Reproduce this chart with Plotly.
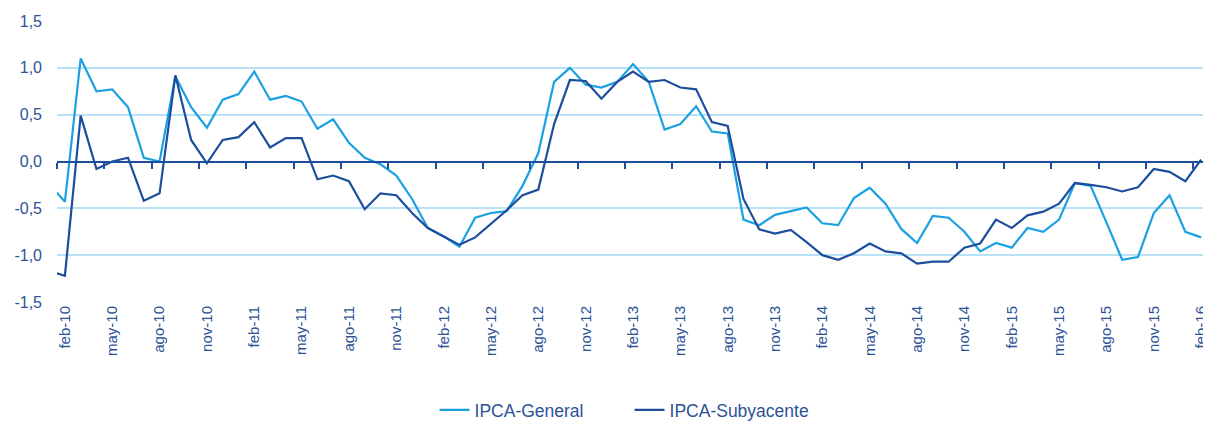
import plotly.graph_objects as go

# Month categories (first value, ene-10, lies just outside the visible axis range)
month_abbr = ["ene", "feb", "mar", "abr", "may", "jun", "jul", "ago", "sep", "oct", "nov", "dic"]
months = [f"{month_abbr[m % 12]}-{10 + m // 12:02d}" for m in range(0, 74)]  # ene-10 .. feb-16

ipca_general = [
    -0.24,
    -0.43, 1.10, 0.75, 0.77, 0.58, 0.04, 0.00, 0.91, 0.58, 0.36, 0.66, 0.72,
    0.96, 0.66, 0.70, 0.64, 0.35, 0.45, 0.20, 0.04, -0.03, -0.15, -0.40, -0.71,
    -0.80, -0.91, -0.60, -0.55, -0.53, -0.26, 0.09, 0.85, 1.00, 0.82, 0.79, 0.85,
    1.04, 0.85, 0.34, 0.40, 0.59, 0.32, 0.30, -0.62, -0.68, -0.57, -0.53, -0.49,
    -0.66, -0.68, -0.39, -0.28, -0.45, -0.72, -0.87, -0.58, -0.60, -0.75, -0.96, -0.87,
    -0.92, -0.71, -0.75, -0.62, -0.23, -0.26, -0.65, -1.05, -1.02, -0.55, -0.36, -0.75,
    -0.81,
]
ipca_subyacente = [
    -1.17,
    -1.22, 0.49, -0.08, 0.00, 0.04, -0.42, -0.34, 0.92, 0.23, -0.02, 0.23, 0.26,
    0.42, 0.15, 0.25, 0.25, -0.19, -0.15, -0.21, -0.51, -0.34, -0.36, -0.55, -0.71,
    -0.80, -0.89, -0.81, -0.67, -0.52, -0.36, -0.30, 0.40, 0.87, 0.86, 0.67, 0.85,
    0.96, 0.85, 0.87, 0.79, 0.77, 0.42, 0.38, -0.40, -0.725, -0.77, -0.73, -0.86,
    -1.00, -1.05, -0.98, -0.875, -0.96, -0.98, -1.09, -1.07, -1.07, -0.92, -0.875, -0.62,
    -0.71, -0.575, -0.535, -0.45, -0.23, -0.25, -0.275, -0.32, -0.275, -0.08, -0.11, -0.21,
    0.02,
]

y_tickvals = [1.5, 1.0, 0.5, 0.0, -0.5, -1.0, -1.5]
y_ticktext = ["1,5", "1,0", "0,5", "0,0", "-0,5", "-1,0", "-1,5"]

x_pos = list(range(len(months)))          # category positions
label_idx = list(range(1, len(months), 3))  # feb-10, may-10, ... feb-16
x_tickvals = [x_pos[i] for i in label_idx]
x_ticktext = [months[i] for i in label_idx]

LIGHT = "#1BA1E2"
DARK = "#1C4E9D"
TEXT = "#2D5296"
GRID = "#B7E2F7"
FONT = "Liberation Sans, Arial, sans-serif"

fig = go.Figure()
fig.add_trace(go.Scatter(x=x_pos, y=ipca_general, mode="lines", name="IPCA-General",
                         line=dict(color=LIGHT, width=2.2)))
fig.add_trace(go.Scatter(x=x_pos, y=ipca_subyacente, mode="lines", name="IPCA-Subyacente",
                         xaxis="x2", line=dict(color=DARK, width=2.2)))

# The page body has an 8px default margin, so the figure is sized to fit the window.
xrange = [0.5, len(months) - 0.5]
fig.update_layout(
    width=1203, height=413,
    margin=dict(l=49, r=2, t=13, b=119, autoexpand=False),
    paper_bgcolor="white", plot_bgcolor="white",
    font=dict(family=FONT, size=15, color=TEXT),
    showlegend=True,
    legend=dict(orientation="h", x=0.497, xanchor="center", y=-0.32, yanchor="top",
                font=dict(size=17.5, color=TEXT), tracegroupgap=0,
                entrywidth=150, entrywidthmode="pixels"),
    xaxis=dict(range=xrange, tickmode="array", tickvals=x_tickvals, ticktext=x_ticktext,
               tickangle=-90, showgrid=False, zeroline=False, showline=False, ticks="",
               ticklabeloverflow="allow", automargin=False,
               tickfont=dict(size=15, color=TEXT)),
    xaxis2=dict(range=xrange, overlaying="x", anchor="free", position=0.5, side="bottom",
                showline=True, linecolor=DARK, linewidth=2,
                tickmode="linear", tick0=0.5, dtick=3,
                ticks="outside", ticklen=6, tickwidth=2, tickcolor=DARK,
                showticklabels=False, showgrid=False, zeroline=False),
    yaxis=dict(range=[-1.5, 1.5], tickmode="array", tickvals=y_tickvals, ticktext=y_ticktext,
               showgrid=True, gridcolor=GRID, gridwidth=2, zeroline=False, showline=False,
               automargin=False,
               ticks="", tickfont=dict(size=16, color=TEXT), ticklabelstandoff=14),
)

fig.write_html("out.html")
